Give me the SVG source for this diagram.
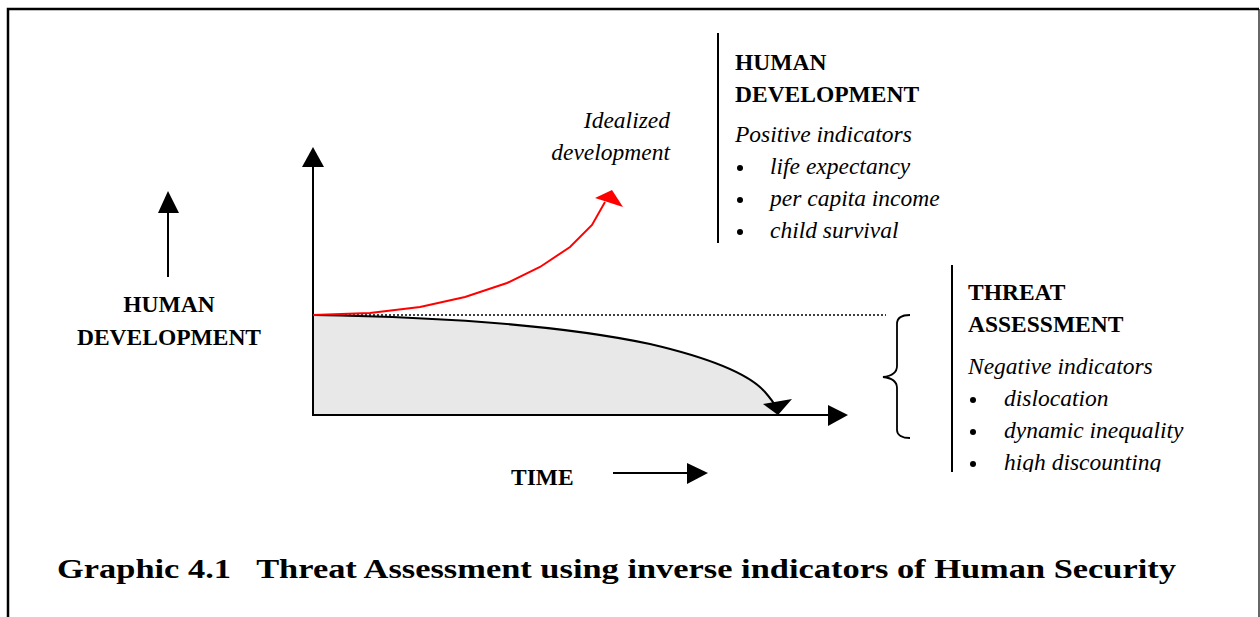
<svg xmlns="http://www.w3.org/2000/svg" width="1260" height="617" viewBox="0 0 1260 617">
  <style>
    text { font-family: "Liberation Serif", "Times New Roman", serif; fill: #000; }
    .b { font-weight: bold; font-size: 23.5px; }
    .i { font-style: italic; font-size: 23.5px; }
    .title { font-weight: bold; font-size: 28px; }
    .ln { stroke: #000; stroke-width: 2; fill: none; }
  </style>
  <defs>
    <clipPath id="panelClip">
      <rect x="940" y="255" width="320" height="217"/>
    </clipPath>
  </defs>
  <rect width="1260" height="617" fill="#fff"/>

  <!-- frame -->
  <g id="frame">
    <path d="M8,617 V9 H1259" stroke="#000" stroke-width="2.5" fill="none"/>
    <line x1="1259" y1="9" x2="1259" y2="617" stroke="#000" stroke-width="1.2"/>
  </g>

  <!-- chart area -->
  <g id="chart">
    <path d="M313,315 C450,317 560,325 650,344 C710,358 750,375 765,392 C772,400 776,408 778,415 H313 Z" fill="#e8e8e8"/>
    <line x1="313" y1="315" x2="886" y2="315" stroke="#000" stroke-width="1.5" stroke-dasharray="2,2"/>
  </g>

  <g id="connectors">
    <!-- vertical axis -->
    <line class="ln" x1="313" y1="416" x2="313" y2="162"/>
    <polygon points="313,147 302,167 324,167"/>
    <!-- horizontal axis -->
    <line class="ln" x1="312" y1="415" x2="832" y2="415"/>
    <polygon points="848,415 828,405 828,426"/>
    <!-- declining curve -->
    <path class="ln" d="M313,315 C450,317 560,325 650,344 C710,358 750,375 765,392 C771,399 774,403 776,407"/>
    <polygon points="763,404 792,399 778,415"/>
    <!-- idealized curve -->
    <polyline points="313,315 370,313 420,307 465,297 507,283 540,267 570,247 592,225 605,202" fill="none" stroke="#ff0000" stroke-width="2"/>
    <polygon points="595,198 612,190 623,207" fill="#ff0000"/>
    <!-- left indicator arrow -->
    <line class="ln" x1="168" y1="277" x2="168" y2="208"/>
    <polygon points="168,191 158,213 179,213"/>
    <!-- time arrow -->
    <line class="ln" x1="613" y1="473" x2="692" y2="473"/>
    <polygon points="708,473 687,463 687,484"/>
    <!-- brace -->
    <path d="M910,315 C902,315 897,318 897,324 V366 C897,372 892,376 883,377 C892,378 897,382 897,388 V430 C897,435 902,438 910,438" fill="none" stroke="#000" stroke-width="1.8"/>
  </g>

  <!-- labels -->
  <g id="idealized-label">
    <text class="i" x="670" y="128" text-anchor="end">Idealized</text>
    <text class="i" x="670" y="160" text-anchor="end">development</text>
  </g>

  <g id="axis-label">
    <text class="b" x="169" y="312" text-anchor="middle">HUMAN</text>
    <text class="b" x="169" y="345" text-anchor="middle">DEVELOPMENT</text>
  </g>

  <g id="time-label">
    <text class="b" x="511" y="485">TIME</text>
  </g>

  <g id="human-development-panel">
    <line x1="718" y1="33" x2="718" y2="243" stroke="#000" stroke-width="2"/>
    <text class="b" x="735" y="70">HUMAN</text>
    <text class="b" x="735" y="102">DEVELOPMENT</text>
    <text class="i" x="735" y="142">Positive indicators</text>
    <circle cx="740" cy="168" r="3"/>
    <text class="i" x="770" y="174">life expectancy</text>
    <circle cx="740" cy="200" r="3"/>
    <text class="i" x="770" y="206">per capita income</text>
    <circle cx="740" cy="232" r="3"/>
    <text class="i" x="770" y="238">child survival</text>
  </g>

  <g id="threat-assessment-panel">
    <line x1="952" y1="265" x2="952" y2="472" stroke="#000" stroke-width="2"/>
    <g clip-path="url(#panelClip)">
      <text class="b" x="968" y="300">THREAT</text>
      <text class="b" x="968" y="332">ASSESSMENT</text>
      <text class="i" x="968" y="374">Negative indicators</text>
      <circle cx="973" cy="400" r="3"/>
      <text class="i" x="1004" y="406">dislocation</text>
      <circle cx="973" cy="432" r="3"/>
      <text class="i" x="1004" y="438">dynamic inequality</text>
      <circle cx="973" cy="464" r="3"/>
      <text class="i" x="1004" y="470">high discounting</text>
    </g>
  </g>

  <g id="caption">
    <text class="title" x="57" y="578" textLength="1119" lengthAdjust="spacingAndGlyphs" xml:space="preserve">Graphic 4.1   Threat Assessment using inverse indicators of Human Security</text>
  </g>
</svg>
